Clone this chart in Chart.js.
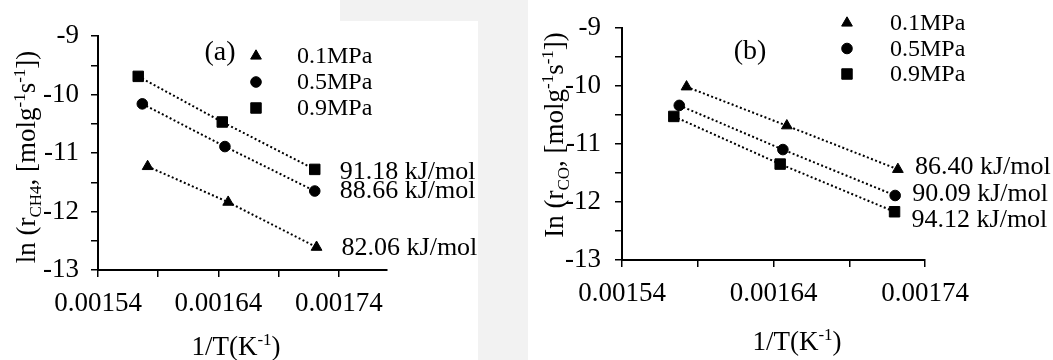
<!DOCTYPE html>
<html><head><meta charset="utf-8">
<script src="https://cdn.jsdelivr.net/npm/chart.js@4.4.1/dist/chart.umd.min.js"></script>
<style>
html,body{margin:0;padding:0;background:#fff;width:1053px;height:360px;overflow:hidden}
canvas{position:absolute;left:0;top:0}
.wm{position:absolute;background:#f2f2f2}
</style></head><body>
<div class="wm" style="left:478px;top:0;width:50px;height:360px"></div>
<div class="wm" style="left:340px;top:0;width:140px;height:21px"></div>
<canvas id="ca" width="1053" height="360"></canvas>
<canvas id="cb" width="1053" height="360"></canvas>
<script>
// ---- data ----
const seriesLabels = ['0.1MPa', '0.5MPa', '0.9MPa'];

// panel (a): ln r_CH4 vs 1/T
const invT_a_01 = [0.0015812, 0.0016481, 0.0017215];
const lnR_a_01  = [-11.23, -11.84, -12.61];
const invT_a_05 = [0.0015768, 0.0016454, 0.0017200];
const lnR_a_05  = [-10.16, -10.89, -11.65];
const invT_a_09 = [0.0015734, 0.0016432, 0.0017200];
const lnR_a_09  = [-9.69, -10.47, -11.28];
const Ea_a = ['82.06 kJ/mol', '88.66 kJ/mol', '91.18 kJ/mol'];

// panel (b): ln r_CO vs 1/T
const invT_b_01 = [0.0015826, 0.0016488, 0.0017221];
const lnR_b_01  = [-10.02, -10.69, -11.44];
const invT_b_05 = [0.0015778, 0.0016462, 0.0017203];
const lnR_b_05  = [-10.34, -11.10, -11.89];
const invT_b_09 = [0.0015742, 0.0016444, 0.0017199];
const lnR_b_09  = [-10.53, -11.35, -12.17];
const Ea_b = ['86.40 kJ/mol', '90.09 kJ/mol', '94.12 kJ/mol'];

// axis ticks
const xTickValues = [0.00154, 0.00159, 0.00164, 0.00169, 0.00174];
const xTickLabels = ['0.00154', '0.00164', '0.00174'];
const yTickValues = [-13, -12.5, -12, -11.5, -11, -10.5, -10, -9.5, -9];
const yTickLabels = ['-13', '-12', '-11', '-10', '-9'];

// ---- styling ----
const FONT = "'Liberation Serif','Times New Roman',serif";
const styles = ['triangle', 'circle', 'rect'];
const radii = { triangle: 6.2, circle: 5.3, rect: 7.4 };

function pts(xs, ys) { return xs.map((x, i) => ({ x: x, y: ys[i] })); }

function makeDatasets(xsList, ysList) {
  return xsList.map((xs, i) => ({
    label: seriesLabels[i],
    data: pts(xs, ysList[i]),
    showLine: true,
    borderColor: '#000',
    borderWidth: 2,
    borderDash: [2, 2.4],
    pointStyle: styles[i],
    pointRadius: radii[styles[i]],
    pointHoverRadius: radii[styles[i]],
    pointBackgroundColor: '#000',
    pointBorderColor: '#000',
    pointBorderWidth: 1,
    fill: false,
    tension: 0
  }));
}

function drawRich(ctx, parts, cx, baseY, rotate) {
  ctx.save();
  ctx.translate(cx, baseY);
  if (rotate) ctx.rotate(-Math.PI / 2);
  ctx.fillStyle = '#000';
  ctx.textBaseline = 'alphabetic';
  ctx.textAlign = 'left';
  let total = 0;
  parts.forEach(p => {
    ctx.font = p.size + 'px ' + FONT;
    p.w = ctx.measureText(p.t).width;
    total += p.w;
  });
  let x = -total / 2;
  parts.forEach(p => {
    ctx.font = p.size + 'px ' + FONT;
    ctx.fillText(p.t, x, p.dy || 0);
    x += p.w;
  });
  ctx.restore();
}

function textPlugin(cfg) {
  return {
    id: 'texts_' + cfg.id,
    afterDraw(chart) {
      const ctx = chart.ctx;
      ctx.save();
      // legend
      cfg.legend.markers.forEach((m, i) => {
        ctx.fillStyle = '#000';
        ctx.strokeStyle = '#000';
        Chart.helpers.drawPoint(ctx, { pointStyle: styles[i], radius: radii[styles[i]], borderWidth: 1, rotation: 0 }, m[0], m[1]);
        ctx.font = '24px ' + FONT;
        ctx.textBaseline = 'middle';
        ctx.textAlign = 'left';
        ctx.fillStyle = '#000';
        ctx.fillText(seriesLabels[i], cfg.legend.textX, m[1] + 1);
      });
      // panel label
      ctx.font = '28px ' + FONT;
      ctx.textAlign = 'center';
      ctx.textBaseline = 'middle';
      ctx.fillText(cfg.panel.text, cfg.panel.x, cfg.panel.y);
      // activation energy labels beside last point of each series
      ctx.font = '26px ' + FONT;
      ctx.textAlign = 'left';
      ctx.textBaseline = 'middle';
      cfg.energies.forEach((txt, i) => {
        const meta = chart.getDatasetMeta(i);
        const el = meta.data[meta.data.length - 1];
        ctx.fillText(txt, el.x + cfg.eOff[i][0], el.y + cfg.eOff[i][1]);
      });
      ctx.restore();
      // axis titles
      drawRich(ctx, cfg.yTitle, cfg.yTitlePos[0], cfg.yTitlePos[1], true);
      drawRich(ctx, [
        { t: '1/T(K', size: 27 },
        { t: '-1', size: 17, dy: -10 },
        { t: ')', size: 27 }
      ], cfg.xTitlePos[0], cfg.xTitlePos[1], false);
    }
  };
}

function makeChart(cfg) {
  return new Chart(document.getElementById(cfg.id), {
    type: 'scatter',
    data: { datasets: cfg.datasets },
    options: {
      responsive: false,
      animation: false,
      devicePixelRatio: 1,
      events: [],
      layout: { padding: cfg.padding },
      plugins: { legend: { display: false }, tooltip: { enabled: false } },
      scales: {
        x: {
          type: 'linear', position: 'bottom', min: cfg.xmin, max: cfg.xmax,
          afterBuildTicks: s => { s.ticks = xTickValues.map(v => ({ value: v })); },
          afterFit: s => { s.height = cfg.xh; },
          grid: { display: true, drawOnChartArea: false, drawTicks: true, tickLength: 7, color: '#000', lineWidth: 1.5 },
          border: { display: true, color: '#000', width: 2 },
          ticks: {
            autoSkip: false, maxRotation: 0, minRotation: 0, padding: 13, color: '#000',
            font: { family: FONT, size: 27, lineHeight: 1 },
            callback: v => { const s = Number(v).toFixed(5); return xTickLabels.includes(s) ? s : ''; }
          },
          title: { display: false }
        },
        y: {
          type: 'linear', position: 'left', min: -13, max: -9,
          afterBuildTicks: s => { s.ticks = yTickValues.map(v => ({ value: v })); },
          afterFit: s => { s.width = cfg.yw; },
          grid: { display: true, drawOnChartArea: false, drawTicks: true, tickLength: 7, color: '#000', lineWidth: 1.5 },
          border: { display: true, color: '#000', width: 2 },
          ticks: {
            autoSkip: false, padding: cfg.ypad, color: '#000',
            font: { family: FONT, size: 27, lineHeight: 1 },
            callback: v => { const s = String(v); return yTickLabels.includes(s) ? s : ''; }
          },
          title: { display: false }
        }
      }
    },
    plugins: [textPlugin(cfg)]
  });
}

makeChart({
  id: 'ca',
  datasets: makeDatasets([invT_a_01, invT_a_05, invT_a_09], [lnR_a_01, lnR_a_05, lnR_a_09]),
  padding: { left: 0, top: 36, right: 666, bottom: 0 },
  yw: 98, xh: 90, ypad: 12,
  xmin: 0.00154, xmax: 0.00178,
  legend: { markers: [[256, 56], [256, 82], [256, 108]], textX: 297 },
  panel: { text: '(a)', x: 220, y: 53 },
  energies: Ea_a,
  eOff: [[25, 1], [25, 0], [25, 3]],
  yTitle: [
    { t: 'ln (r', size: 27 },
    { t: 'CH4', size: 17, dy: 6 },
    { t: ', [molg', size: 27 },
    { t: '-1', size: 17, dy: -10 },
    { t: 's', size: 27 },
    { t: '-1', size: 17, dy: -10 },
    { t: '])', size: 27 }
  ],
  yTitlePos: [35, 157],
  xTitlePos: [236, 355]
});

makeChart({
  id: 'cb',
  datasets: makeDatasets([invT_b_01, invT_b_05, invT_b_09], [lnR_b_01, lnR_b_05, lnR_b_09]),
  padding: { left: 527, top: 20, right: 128, bottom: 0 },
  yw: 95, xh: 100, ypad: 14,
  xmin: 0.00154, xmax: 0.00174,
  legend: { markers: [[847, 23], [847, 48.5], [847, 74]], textX: 890 },
  panel: { text: '(b)', x: 750, y: 52 },
  energies: Ea_b,
  eOff: [[17, -2], [17, -1], [17, 8]],
  yTitle: [
    { t: 'In (r', size: 27 },
    { t: 'CO', size: 17, dy: 6 },
    { t: ', [molg', size: 27 },
    { t: '-1', size: 17, dy: -10 },
    { t: 's', size: 27 },
    { t: '-1', size: 17, dy: -10 },
    { t: '])', size: 27 }
  ],
  yTitlePos: [563, 135],
  xTitlePos: [797, 350]
});
</script>
</body></html>
